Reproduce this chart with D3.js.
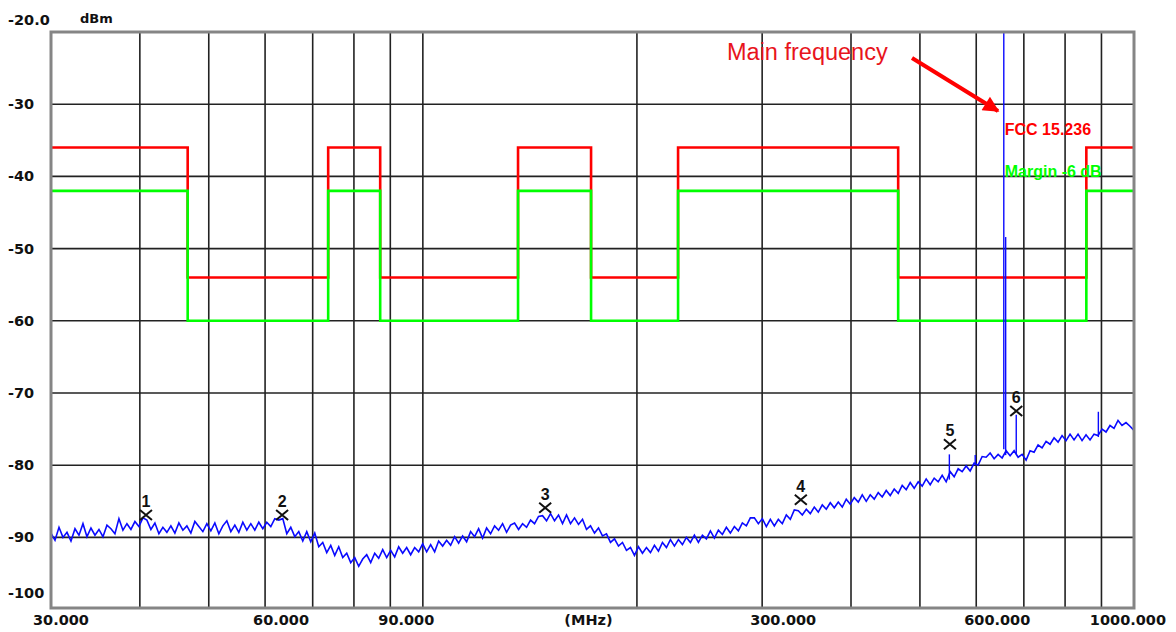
<!DOCTYPE html>
<html>
<head>
<meta charset="utf-8">
<script src="https://cdn.jsdelivr.net/npm/d3@7/dist/d3.min.js"></script>
<style>
html, body { margin: 0; padding: 0; background: #fff; }
svg { display: block; }
.tick-label { font-family: "DejaVu Sans", sans-serif; font-weight: bold; font-size: 14.5px; fill: #111; }
</style>
</head>
<body>
<svg id="chart" width="1176" height="632"></svg>
<script>
// sweep: log spaced points from sweepStart to sweepStop (MHz)
var sweepStart = 30,
    sweepStop = 1000

// measured level (dBm) at each sweep point
var traceLevels = [
    -89.4, -90.4, -88.6, -90.0, -89.3, -90.5, -88.8, -89.7, -88.1, -89.9,
    -88.7, -89.7, -88.9, -89.9, -88.3, -88.8, -89.5, -87.4, -89.0, -88.1,
    -88.9, -87.8, -88.5, -87.3, -87.6, -88.9, -88.0, -89.5, -88.6, -89.3,
    -88.4, -89.4, -88.0, -89.0, -88.4, -89.4, -87.8, -88.5, -89.2, -88.1,
    -89.1, -88.0, -89.5, -88.4, -87.7, -89.2, -88.3, -89.3, -87.9, -89.0,
    -88.1, -89.0, -87.9, -88.8, -87.9, -88.5, -87.4, -87.6, -87.4, -89.5,
    -88.6, -89.9, -89.2, -90.5, -89.2, -90.6, -89.4, -91.3, -90.7, -92.1,
    -91.1, -92.5, -91.3, -92.8, -92.2, -93.5, -92.8, -94.0, -93.0, -92.4,
    -93.5, -92.2, -92.9, -91.7, -92.8, -91.8, -92.7, -91.3, -92.2, -91.4,
    -92.4, -91.4, -92.0, -90.9, -92.0, -91.0, -92.0, -90.5, -91.2, -90.4,
    -91.1, -89.9, -90.8, -89.8, -90.6, -89.2, -89.9, -88.8, -90.1, -88.7,
    -89.5, -88.4, -89.0, -88.1, -89.3, -88.3, -88.0, -88.9, -88.1, -88.6,
    -87.6, -88.1, -87.1, -87.0, -87.7, -86.7, -87.7, -86.9, -88.1, -86.9,
    -88.1, -87.3, -88.2, -87.5, -88.9, -88.4, -89.4, -88.7, -89.8, -89.5,
    -90.7, -90.2, -91.2, -90.7, -91.8, -91.4, -92.5, -91.3, -92.2, -91.4,
    -92.1, -91.1, -91.9, -90.7, -91.4, -90.3, -91.2, -90.3, -91.0, -90.0,
    -90.7, -89.7, -90.7, -89.7, -90.2, -89.1, -90.1, -89.0, -89.6, -88.6,
    -89.4, -88.5, -89.1, -88.0, -88.4, -87.3, -87.3, -88.1, -87.4, -88.5,
    -87.5, -88.4, -87.5, -88.1, -86.9, -87.5, -86.2, -86.3, -86.9, -86.1,
    -86.7, -85.8, -86.5, -85.5, -86.1, -85.2, -85.9, -85.1, -85.8, -84.7,
    -85.4, -84.5, -85.1, -84.1, -85.0, -84.1, -84.7, -83.8, -84.4, -83.5,
    -84.2, -83.3, -83.9, -82.8, -83.4, -82.4, -83.2, -82.3, -82.9, -81.9,
    -82.7, -81.8, -82.3, -81.4, -82.3, -80.9, -81.6, -80.5, -80.9, -80.1,
    -80.8, -79.7, -80.0, -78.8, -78.9, -78.3, -79.1, -78.5, -79.0, -78.0,
    -78.7, -78.0, -78.9, -78.5, -79.3, -78.0, -78.2, -77.2, -77.6, -76.7,
    -77.1, -76.2, -76.8, -75.9, -76.6, -75.7, -76.5, -75.7, -76.6, -75.8,
    -76.5, -75.7, -75.9, -75.0, -75.4, -74.5, -74.9, -73.8, -74.5, -74.1,
    -74.6, -75.2
]

// narrow spurs on top of the noise floor
var spurFreqs = [550, 598, 656, 660, 683, 891]
var spurBase = [-82.0, -80.0, -77.8, -78.6, -78.5, -76.1]
var spurPeak = [-78.5, -78.6, -10.0, -48.4, -73.0, -72.6]

// markers
var markerNames = ["1", "2", "3", "4", "5", "6"]
var markerFreqs = [40.8, 63.4, 148.6, 340, 551, 683]
var markerLevels = [-86.9, -86.9, -85.9, -84.8, -77.1, -72.5]

// limit lines (band edges in MHz, one level per band)
var bandEdges = [30, 46.7, 73.6, 87.1, 136.1, 172.4, 228.5, 466, 857, 1000]
var fccLevels = [-36, -54, -36, -54, -36, -54, -36, -54, -36]
var marginLevels = [-42, -60, -42, -60, -42, -60, -42, -60, -42]

// axes
var gridFreqs = [40, 50, 60, 70, 80, 90, 100, 200, 300, 400, 500, 600, 700, 800, 900]
var gridLevels = [-30, -40, -50, -60, -70, -80, -90]
var xTickFreqs = [30, 60, 90, 300, 600, 1000]
var xTickLabels = ["30.000", "60.000", "90.000", "300.000", "600.000", "1000.000"]
var yTickValues = [-20, -30, -40, -50, -60, -70, -80, -90, -100]
var yTickLabels = ["-20.0", "-30", "-40", "-50", "-60", "-70", "-80", "-90", "-100"]

var plotLeft = 51, plotRight = 1134, plotTop = 32, plotBottom = 608

var svg = d3.select("#chart")

var x = d3.scaleLog()
    .domain([sweepStart, sweepStop])
    .range([plotLeft, plotRight])

var y = d3.scaleLinear()
    .domain([-20, -100])
    .range([plotTop, plotTop + 80 * 7.22])

var defs = svg.append("defs")

defs.append("clipPath")
    .attr("id", "plot-clip")
    .append("rect")
    .attr("x", plotLeft)
    .attr("y", plotTop)
    .attr("width", plotRight - plotLeft)
    .attr("height", plotBottom - plotTop)

// grid
svg.append("g").selectAll("line")
    .data(gridFreqs)
    .enter().append("line")
    .attr("x1", function(d) { return x(d) })
    .attr("x2", function(d) { return x(d) })
    .attr("y1", plotTop)
    .attr("y2", plotBottom)
    .style("stroke", "#222")
    .style("stroke-width", 1.6)

svg.append("g").selectAll("line")
    .data(gridLevels)
    .enter().append("line")
    .attr("x1", plotLeft)
    .attr("x2", plotRight)
    .attr("y1", function(d) { return y(d) })
    .attr("y2", function(d) { return y(d) })
    .style("stroke", "#222")
    .style("stroke-width", 1.6)

// limit lines
function stepPoints(levels) {
    var pts = []
    levels.forEach(function(v, i) {
        pts.push([bandEdges[i], v])
        pts.push([bandEdges[i + 1], v])
    })
    return pts
}

var stepLine = d3.line()
    .x(function(d) { return x(d[0]) })
    .y(function(d) { return y(d[1]) })

svg.append("path")
    .datum(stepPoints(fccLevels))
    .attr("d", stepLine)
    .style("fill", "none")
    .style("stroke", "#ff0000")
    .style("stroke-width", 2.6)

svg.append("path")
    .datum(stepPoints(marginLevels))
    .attr("d", stepLine)
    .style("fill", "none")
    .style("stroke", "#00ff00")
    .style("stroke-width", 2.6)

// trace
var n = traceLevels.length
var traceLine = d3.line()
    .x(function(d, i) { return x(sweepStart * Math.pow(sweepStop / sweepStart, i / (n - 1))) })
    .y(function(d) { return y(d) })

var plot = svg.append("g").attr("clip-path", "url(#plot-clip)")

plot.append("path")
    .datum(traceLevels)
    .attr("d", traceLine)
    .style("fill", "none")
    .style("stroke", "#0a0aff")
    .style("stroke-width", 1.6)
    .style("stroke-linejoin", "miter")

plot.selectAll(".spur")
    .data(spurFreqs)
    .enter().append("line")
    .attr("class", "spur")
    .attr("x1", function(d) { return x(d) })
    .attr("x2", function(d) { return x(d) })
    .attr("y1", function(d, i) { return y(spurBase[i]) })
    .attr("y2", function(d, i) { return y(spurPeak[i]) })
    .style("stroke", "#0a0aff")
    .style("stroke-width", 1.4)

// markers
var marker = svg.append("g").selectAll("g")
    .data(markerFreqs)
    .enter().append("g")
    .attr("transform", function(d, i) {
        return "translate(" + x(d) + "," + y(markerLevels[i]) + ")"
    })

marker.append("path")
    .attr("d", "M-6,-5L6,5M-6,5L6,-5")
    .style("stroke", "#111")
    .style("stroke-width", 2)

marker.append("text")
    .attr("y", -8)
    .attr("text-anchor", "middle")
    .style("font-family", "Liberation Sans, Arial, sans-serif")
    .style("font-size", "16px")
    .style("font-weight", "bold")
    .style("fill", "#111")
    .text(function(d, i) { return markerNames[i] })

// border
svg.append("rect")
    .attr("x", plotLeft)
    .attr("y", plotTop)
    .attr("width", plotRight - plotLeft)
    .attr("height", plotBottom - plotTop)
    .style("fill", "none")
    .style("stroke", "#858585")
    .style("stroke-width", 3)

// y tick labels
svg.append("g").selectAll("text")
    .data(yTickValues)
    .enter().append("text")
    .attr("class", "tick-label")
    .attr("x", 8)
    .attr("y", function(d, i) {
        if (i == 0) return y(d) - 7
        if (i == yTickValues.length - 1) return y(d) - 12
        return y(d) + 5
    })
    .text(function(d, i) { return yTickLabels[i] })

svg.append("text")
    .attr("class", "tick-label")
    .attr("x", 80)
    .attr("y", 23)
    .style("font-size", "13px")
    .text("dBm")

// x tick labels
svg.append("g").selectAll("text")
    .data(xTickFreqs)
    .enter().append("text")
    .attr("class", "tick-label")
    .attr("x", function(d, i) {
        if (i == 0) return x(d) - 18
        if (i == xTickFreqs.length - 1) return x(d) + 32
        return x(d) - 12
    })
    .attr("y", 625)
    .attr("text-anchor", function(d, i) { return i == xTickFreqs.length - 1 ? "end" : "start" })
    .text(function(d, i) { return xTickLabels[i] })

svg.append("text")
    .attr("class", "tick-label")
    .attr("x", x(Math.sqrt(sweepStart * sweepStop)) - 4)
    .attr("y", 625)
    .attr("text-anchor", "middle")
    .text("(MHz)")

// limit legend
svg.append("text")
    .attr("x", x(656) + 1)
    .attr("y", 135)
    .style("font-family", "Liberation Sans, Arial, sans-serif")
    .style("font-weight", "bold")
    .style("font-size", "16px")
    .style("fill", "#ff0000")
    .text("FCC 15.236")

svg.append("text")
    .attr("x", x(656) + 1)
    .attr("y", 177)
    .style("font-family", "Liberation Sans, Arial, sans-serif")
    .style("font-weight", "bold")
    .style("font-size", "16px")
    .style("fill", "#00ff00")
    .text("Margin -6 dB")

// annotation
defs.append("marker")
    .attr("id", "arrow")
    .attr("viewBox", "0 0 10 10")
    .attr("refX", 9)
    .attr("refY", 5)
    .attr("markerWidth", 4.5)
    .attr("markerHeight", 4)
    .attr("orient", "auto")
    .append("path")
    .attr("d", "M0,0L10,5L0,10Z")
    .style("fill", "#ff0000")

svg.append("line")
    .attr("x1", 912)
    .attr("y1", 58)
    .attr("x2", 998)
    .attr("y2", 111)
    .style("stroke", "#ff0000")
    .style("stroke-width", 4)
    .attr("marker-end", "url(#arrow)")

svg.append("text")
    .attr("x", 727)
    .attr("y", 60)
    .style("font-family", "Liberation Sans, Arial, sans-serif")
    .style("font-size", "23.5px")
    .style("fill", "#e8141c")
    .text("Main frequency")
</script>
</body>
</html>
